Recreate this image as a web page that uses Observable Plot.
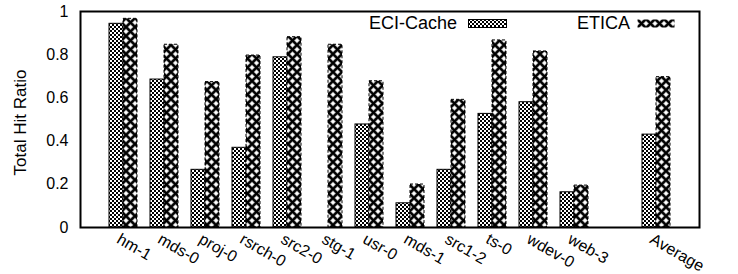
<!DOCTYPE html>
<html>
<head>
<meta charset="utf-8">
<script src="https://cdn.jsdelivr.net/npm/d3@7"></script>
<script src="https://cdn.jsdelivr.net/npm/@observablehq/plot@0.6"></script>
<style>
  html, body { margin: 0; padding: 0; background: #fff; }
  #wrap { position: relative; width: 738px; height: 274px; font-family: "Liberation Sans", Arial, sans-serif; }
  .leg { position: absolute; font-size: 18px; color: #000; line-height: 1; white-space: nowrap; }
  .sw { position: absolute; }
</style>
</head>
<body>
<div id="wrap"></div>
<script>
const categories = ["hm-1", "mds-0", "proj-0", "rsrch-0", "src2-0", "stg-1", "usr-0", "mds-1", "src1-2", "ts-0", "wdev-0", "web-3", "", "Average"];
const eciCache = [0.943, 0.685, 0.267, 0.369, 0.788, 0, 0.477, 0.112, 0.267, 0.526, 0.58, 0.163, null, 0.43];
const etica =    [0.966, 0.846, 0.673, 0.796, 0.881, 0.846, 0.677, 0.199, 0.591, 0.866, 0.815, 0.194, null, 0.696];
const yTicks = [0, 0.2, 0.4, 0.6, 0.8, 1];
const seriesNames = ["ECI-Cache", "ETICA"];

const eciData = categories.map((c, i) => ({cat: c, v: eciCache[i]})).filter(d => d.v != null && d.v > 0);
const etiData = categories.map((c, i) => ({cat: c, v: etica[i]})).filter(d => d.v != null);
const labelData = categories.filter(c => c !== "");

const font = '"Liberation Sans", Arial, sans-serif';

const chart = Plot.plot({
  width: 738,
  height: 274,
  marginLeft: 80,
  marginRight: 39,
  marginTop: 11,
  marginBottom: 47,
  style: {fontFamily: font, fontSize: "16px", background: "white", color: "black", overflow: "visible"},
  x: {type: "band", domain: categories, paddingInner: 0.32, paddingOuter: 0.66, axis: null},
  y: {domain: [0, 1], axis: null},
  marks: [
    Plot.barY(eciData, {x: "cat", y: "v", insetRight: 14, fill: "url(#eciPat)", stroke: "black", strokeWidth: 1}),
    Plot.barY(etiData, {x: "cat", y: "v", insetLeft: 14, fill: "url(#etiPat)", stroke: "black", strokeWidth: 1, strokeDasharray: "3,2"}),
    Plot.axisY({ticks: yTicks, tickSize: 0, tickPadding: 12, tickFormat: d => String(d), label: null, fontSize: 16}),
    Plot.text(["Total Hit Ratio"], {frameAnchor: "left", textAnchor: "middle", lineAnchor: "middle", rotate: -90, dx: -60, dy: 3, fontSize: 17}),
    Plot.text(labelData, {x: d => d, frameAnchor: "bottom", rotate: 30, textAnchor: "start", lineAnchor: "top", dx: -2, dy: 5, fontSize: 16}),
    Plot.frame({stroke: "black", strokeWidth: 2})
  ]
});

// patterns
const svg = d3.select(chart);
const defs = svg.insert("defs", ":first-child");
const p1 = defs.append("pattern").attr("id", "eciPat").attr("patternUnits", "userSpaceOnUse").attr("width", 4).attr("height", 4);
p1.append("rect").attr("width", 4).attr("height", 4).attr("fill", "white");
p1.append("rect").attr("width", 2).attr("height", 2).attr("fill", "black").attr("shape-rendering", "crispEdges");
p1.append("rect").attr("x", 2).attr("y", 2).attr("width", 2).attr("height", 2).attr("fill", "black").attr("shape-rendering", "crispEdges");
const p2 = defs.append("pattern").attr("id", "etiPat").attr("patternUnits", "userSpaceOnUse").attr("width", 9).attr("height", 9);
p2.append("rect").attr("width", 9).attr("height", 9).attr("fill", "white");
p2.append("path").attr("d", "M-1,-1L10,10M-1,10L10,-1").attr("stroke", "#999").attr("stroke-width", 3.6);
p2.append("path").attr("d", "M-1,-1L10,10M-1,10L10,-1").attr("stroke", "black").attr("stroke-width", 2.2);

const wrap = document.getElementById("wrap");
wrap.appendChild(chart);

function addLegend(text, left, swLeft, swWidth, pat) {
  const t = document.createElement("div");
  t.className = "leg";
  t.style.left = left + "px";
  t.style.top = "14px";
  t.textContent = text;
  wrap.appendChild(t);
  const s = document.createElementNS("http://www.w3.org/2000/svg", "svg");
  s.setAttribute("class", "sw");
  s.setAttribute("width", swWidth);
  s.setAttribute("height", 9);
  s.style.left = swLeft + "px";
  s.style.top = "19px";
  s.innerHTML = `<rect x="0.5" y="0.5" width="${swWidth - 1}" height="8" fill="url(#${pat})" stroke="${pat === 'eciPat' ? 'black' : 'none'}"/>`;
  wrap.appendChild(s);
}
addLegend(seriesNames[0], 369, 468, 39, "eciPat");
addLegend(seriesNames[1], 577, 637, 38, "etiPat");
</script>
</body>
</html>
